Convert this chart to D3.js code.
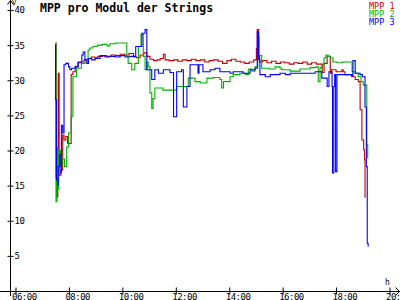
<!DOCTYPE html>
<html>
<head>
<meta charset="utf-8">
<script src="https://cdn.jsdelivr.net/npm/d3@7"></script>
<style>
    html, body { margin: 0; padding: 0; background: #fff; overflow: hidden; }
    svg { display: block; }
    text { font-family: "DejaVu Sans Mono", "Liberation Mono", monospace; }
</style>
</head>
<body>
<svg id="chart" width="400" height="300"></svg>
<script>
const title = 'MPP pro Modul der Strings';
const seriesNames = ['MPP 1', 'MPP 2', 'MPP 3'];
const seriesColors = ['#c00000', '#00b000', '#0000ff'];
const yTicks = [5, 10, 15, 20, 25, 30, 35, 40];
const xTicks = ['06:00', '08:00', '10:00', '12:00', '14:00', '16:00', '18:00', '20:00'];

// [time, volts]
const mpp1 = [
    ['07:30', 35.3], ['07:31', 16.2], ['07:33', 13.4], ['07:35', 16.2], ['07:36', 31.0], ['07:38', 16.5],
    ['07:42', 17.2], ['07:46', 22.2], ['07:49', 21.5], ['07:53', 22.0], ['07:57', 21.0], ['08:05', 30.8],
    ['08:09', 31.2], ['08:14', 32.0], ['08:20', 32.5], ['08:27', 32.6], ['08:34', 32.9], ['08:42', 33.1],
    ['08:50', 33.3], ['08:58', 33.2], ['09:05', 33.4], ['09:15', 33.5], ['09:25', 33.4], ['09:35', 33.6],
    ['09:45', 33.5], ['09:55', 33.7], ['10:05', 33.6], ['10:15', 33.8], ['10:25', 33.3], ['10:32', 33.2],
    ['10:40', 33.6], ['10:48', 33.9], ['10:55', 33.4], ['11:02', 33.0], ['11:10', 32.8], ['11:18', 32.9],
    ['11:25', 33.1], ['11:32', 33.7], ['11:36', 32.9], ['11:45', 32.8], ['11:55', 32.9], ['12:05', 32.7],
    ['12:15', 32.9], ['12:25', 32.8], ['12:35', 33.0], ['12:45', 32.8], ['12:55', 32.9], ['13:05', 32.6],
    ['13:15', 32.8], ['13:25', 32.9], ['13:35', 32.7], ['13:45', 32.4], ['13:55', 32.8], ['14:05', 33.0],
    ['14:15', 32.7], ['14:25', 32.6], ['14:35', 32.4], ['14:45', 32.6], ['14:55', 32.9], ['15:01', 34.5],
    ['15:03', 37.2], ['15:06', 33.5], ['15:08', 32.6], ['15:15', 32.8], ['15:25', 32.5], ['15:35', 32.7],
    ['15:45', 32.4], ['15:55', 32.6], ['16:05', 32.5], ['16:15', 32.3], ['16:25', 32.5], ['16:35', 32.4],
    ['16:45', 32.6], ['16:55', 32.3], ['17:05', 32.5], ['17:16', 32.3], ['17:29', 31.1], ['17:33', 32.4],
    ['17:40', 33.4], ['17:47', 31.0], ['17:50', 31.5], ['18:00', 31.2], ['18:13', 31.5], ['18:16', 31.2],
    ['18:20', 30.8], ['18:35', 30.5], ['18:43', 30.1], ['18:50', 29.8], ['18:54', 25.8], ['18:58', 21.5],
    ['19:02', 20.1], ['19:04', 18.7], ['19:05', 13.4], ['19:07', 13.4]
];
const mpp2 = [
    ['07:30', 35.3], ['07:31', 12.7], ['07:33', 20.5], ['07:35', 14.5], ['07:37', 20.0], ['07:41', 17.8],
    ['07:44', 18.8], ['07:50', 17.7], ['07:55', 20.5], ['07:59', 22.5], ['08:05', 24.8], ['08:09', 30.5],
    ['08:17', 31.7], ['08:28', 32.4], ['08:36', 32.6], ['08:43', 34.3], ['08:47', 34.6], ['08:54', 34.8],
    ['09:04', 35.0], ['09:15', 35.1], ['09:26', 34.9], ['09:32', 35.2], ['09:45', 35.3], ['10:10', 33.4],
    ['10:13', 32.4], ['10:21', 31.5], ['10:28', 32.4], ['10:36', 34.8], ['10:42', 36.5], ['10:47', 33.4],
    ['10:51', 31.5], ['10:55', 32.6], ['10:58', 31.9], ['11:02', 28.2], ['11:06', 26.0], ['11:09', 27.4],
    ['11:13', 28.9], ['11:31', 28.6], ['12:02', 29.1], ['12:28', 30.3], ['12:43', 29.8], ['12:55', 29.6],
    ['13:10', 30.3], ['13:25', 30.4], ['13:39', 30.1], ['13:43', 28.9], ['13:47', 29.8], ['14:02', 30.5],
    ['14:09', 30.8], ['14:24', 31.0], ['14:36', 30.8], ['14:43', 31.6], ['14:51', 31.3], ['14:58', 31.9],
    ['15:04', 36.2], ['15:07', 33.5], ['15:13', 31.7], ['15:30', 31.6], ['15:43', 31.9], ['15:54', 31.7],
    ['15:58', 31.5], ['16:17', 31.3], ['16:39', 31.6], ['17:02', 31.8], ['17:15', 31.9], ['17:20', 29.8],
    ['17:24', 31.8], ['17:28', 32.2], ['17:33', 33.2], ['17:37', 33.6], ['17:42', 33.4], ['17:47', 33.2],
    ['17:53', 32.6], ['18:02', 32.5], ['18:14', 32.6], ['18:36', 31.2], ['18:43', 31.0], ['18:50', 30.5],
    ['18:56', 29.8], ['19:01', 29.3], ['19:09', 20.8], ['19:11', 18.9]
];
const mpp3 = [
    ['07:29', 35.0], ['07:30', 27.2], ['07:32', 15.8], ['07:35', 15.1], ['07:36', 17.7], ['07:39', 19.4],
    ['07:42', 16.8], ['07:43', 23.6], ['07:46', 22.5], ['07:49', 32.2], ['07:53', 32.4], ['07:59', 31.9],
    ['08:02', 31.5], ['08:06', 31.7], ['08:14', 31.9], ['08:21', 32.6], ['08:29', 33.6], ['08:32', 34.0],
    ['08:36', 32.9], ['08:40', 32.4], ['08:44', 33.1], ['08:51', 32.9], ['08:59', 33.1], ['09:10', 33.5],
    ['09:21', 33.3], ['09:32', 33.4], ['09:44', 33.3], ['09:55', 33.5], ['10:06', 33.3], ['10:17', 33.4],
    ['10:30', 34.8], ['10:44', 36.7], ['10:51', 37.2], ['10:55', 31.5], ['11:06', 30.1], ['11:13', 31.5],
    ['11:21', 31.0], ['11:32', 31.5], ['11:47', 31.1], ['11:55', 24.8], ['12:02', 31.2], ['12:13', 31.5],
    ['12:17', 26.2], ['12:25', 29.1], ['12:32', 32.2], ['12:50', 31.0], ['12:52', 32.2], ['13:01', 31.2],
    ['13:17', 31.5], ['13:28', 31.7], ['13:39', 31.2], ['14:02', 31.0], ['14:09', 31.2], ['14:31', 31.0],
    ['14:47', 31.5], ['14:58', 31.7], ['15:03', 36.9], ['15:06', 33.0], ['15:09', 30.8], ['15:21', 30.5],
    ['15:32', 30.8], ['15:54', 31.0], ['16:06', 30.8], ['16:17', 31.0], ['16:39', 31.0], ['17:13', 31.2],
    ['17:28', 30.3], ['17:40', 29.1], ['17:44', 31.2], ['17:51', 29.1], ['17:52', 16.8], ['17:55', 29.1],
    ['17:57', 30.8], ['17:59', 17.0], ['18:02', 30.8], ['18:20', 30.8], ['18:36', 30.6], ['18:38', 32.8],
    ['18:43', 31.0], ['18:54', 30.8], ['18:59', 30.5], ['19:05', 26.2], ['19:08', 17.7], ['19:10', 6.8],
    ['19:12', 6.3]
];

const parse = d3.timeParse('%H:%M');
const svg = d3.select('#chart');

const x = d3.scaleTime()
    .domain([parse(xTicks[0]), parse(xTicks[xTicks.length - 1])])
    .range([15.5, 389.5]);
const y = d3.scaleLinear().domain([0, 40]).range([291, 10]);

// series
const line = d3.line()
    .x(d => x(parse(d[0])))
    .y(d => y(d[1]))
    .curve(d3.curveStepAfter);

svg.append('g')
    .attr('fill', 'none')
    .attr('stroke-width', 1.1)
    .selectAll('path')
    .data([mpp1, mpp2, mpp3])
    .join('path')
    .attr('stroke', (d, i) => seriesColors[i])
    .attr('d', line);

// y axis
const yAxis = svg.append('g')
    .attr('transform', 'translate(10.5,0)')
    .call(d3.axisRight(y).tickValues(yTicks).tickSize(3).tickPadding(1).tickFormat(d3.format('d')));
yAxis.select('.domain').remove();
yAxis.selectAll('.tick line').attr('x1', -3);
yAxis.selectAll('text').attr('font-size', 9).attr('letter-spacing', -0.4);
yAxis.attr('font-family', null);

// x axis
const xAxis = svg.append('g')
    .attr('transform', 'translate(0,291.5)')
    .call(d3.axisBottom(x).tickValues(xTicks.map(parse)).tickSize(3).tickFormat(d3.timeFormat('%H:%M')));
xAxis.select('.domain').remove();
xAxis.selectAll('.tick line').attr('y1', -4);
xAxis.selectAll('text')
    .attr('font-size', 9).attr('letter-spacing', -0.5)
    .attr('text-anchor', 'start').attr('x', -4).attr('y', 8).attr('dy', null);
xAxis.attr('font-family', null);

// axis lines with arrows
svg.append('path')
    .attr('fill', 'none').attr('stroke', '#000')
    .attr('d', 'M10.5,296V0.5M7.5,4.5L10.5,0.5L13.5,4.5M0,291.5H399.5M395.5,287.5L399.5,291.5L395.5,295.5');

svg.append('text').attr('x', 12).attr('y', 5).attr('font-size', 7).text('V');
svg.append('text').attr('x', 385).attr('y', 284.5).attr('font-size', 8).text('h');

svg.append('text')
    .attr('x', 40).attr('y', 11.5)
    .attr('font-size', 11.5).attr('font-weight', 'bold')
    .text(title);

svg.append('g')
    .selectAll('text')
    .data(seriesNames)
    .join('text')
    .attr('x', 369).attr('y', (d, i) => 8.5 + i * 8.3)
    .attr('font-size', 8.5)
    .attr('fill', (d, i) => seriesColors[i])
    .text(d => d);
</script>
</body>
</html>
